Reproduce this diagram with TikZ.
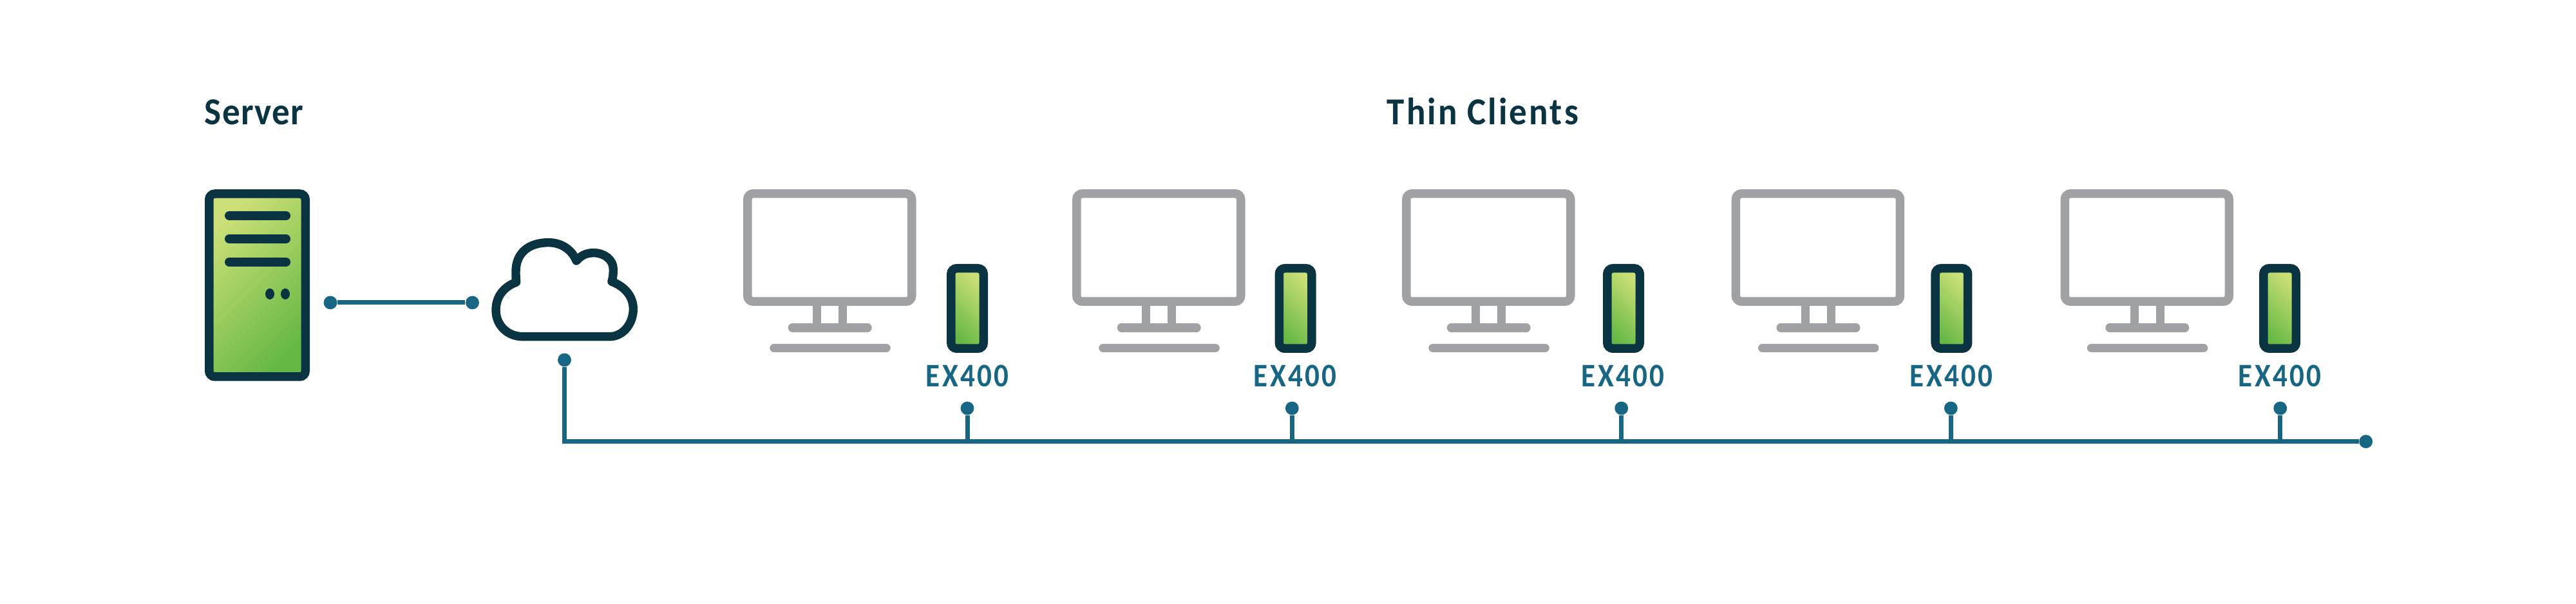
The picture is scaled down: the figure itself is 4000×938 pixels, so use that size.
\documentclass[tikz,border=0pt]{standalone}
\usepackage{fontspec}
\setmainfont{Carlito}
\newfontfamily\srvfont[LetterSpace=2.4,FakeStretch=0.93]{Carlito}
\newfontfamily\headfont[LetterSpace=5.2,FakeStretch=0.93]{Carlito}
\newfontfamily\devfont[LetterSpace=6.4,FakeStretch=0.88]{Carlito}
\usetikzlibrary{shapes.geometric}
\definecolor{dark}{HTML}{0B3443}
\definecolor{linkblue}{HTML}{176684}
\definecolor{mongray}{HTML}{A0A1A4}
\definecolor{glight}{HTML}{CBDF76}
\definecolor{gdeep}{HTML}{66B845}
\tikzset{
  px/.style={x=0.25pt,y=-0.25pt},
  serverbox/.style={draw=dark,line width=3.375pt,rounded corners=2.2pt,inner sep=0pt,
    minimum width=37.375pt,minimum height=71pt,left color=glight,right color=gdeep,shading angle=45},
  devbox/.style={draw=dark,line width=3.375pt,rounded corners=2.2pt,inner sep=0pt,
    minimum width=12.625pt,minimum height=31.125pt,left color=gdeep,right color=glight,shading angle=135},
  monbox/.style={draw=mongray,line width=3.375pt,rounded corners=2.2pt,inner sep=0pt,
    minimum width=63.75pt,minimum height=41.875pt},
  monline/.style={draw=mongray,line width=3.375pt,line cap=round},
  monpost/.style={draw=mongray,line width=3.25pt},
  darkbar/.style={draw=dark,line width=3.5pt,line cap=round},
  link/.style={draw=linkblue,line width=1.75pt},
  linkdot/.style={circle,fill=linkblue,inner sep=0pt,minimum size=5.2pt},
  headtext/.style={inner sep=0pt,anchor=base west,text=dark,font={\headfont\bfseries\fontsize{14.8pt}{16pt}\selectfont}},
  srvtext/.style={inner sep=0pt,anchor=base west,text=dark,font={\srvfont\bfseries\fontsize{14.8pt}{16pt}\selectfont}},
  devtext/.style={inner sep=0pt,anchor=base west,text=linkblue,font={\devfont\bfseries\fontsize{12.8pt}{14pt}\selectfont}},
  cloudline/.style={draw=dark,line width=3.35pt,line join=round},
}
\begin{document}
\begin{tikzpicture}[px]
\useasboundingbox (0,0) rectangle (4000,938);
% headings
\node[srvtext] (serverlabel) at (317,194) {Server};
\node[headtext] (thinlabel) at (2153,194) {Thin Clients};
% server
\node[serverbox] (server) at (399.5,443) {};
\foreach \y in {335,371,407}{\draw[darkbar] (356,\y) -- (444,\y);}
\fill[dark] (419,456.5) ellipse [x radius=7,y radius=8.5];
\fill[dark] (443,456.5) ellipse [x radius=7,y radius=8.5];
% cloud
\draw[cloudline] (811.7,522.7) -- (946.7,522.7)
  .. controls (968,522.7) and (983.3,502) .. (983.3,480)
  .. controls (983.3,460) and (970,445) .. (950,437.3)
  .. controls (952,430) and (952.3,425) .. (952.3,418)
  .. controls (952.3,403) and (938,392.7) .. (921.7,392.7)
  .. controls (910,392.7) and (902,397) .. (895,405)
  .. controls (888,388) and (872,376.7) .. (851.7,376.7)
  .. controls (822,376.7) and (801,392) .. (801,421.7)
  .. controls (801,428) and (801,432) .. (801.7,438.3)
  .. controls (783,445) and (770,460) .. (770,481.7)
  .. controls (770,505) and (788,522.7) .. (811.7,522.7) -- cycle;
% server to cloud link
\node[linkdot] (srvdot) at (513,470) {};
\node[linkdot] (clddot) at (733.5,470) {};
\draw[link] (srvdot) -- (clddot);
% bus
\node[linkdot] (busstart) at (876.5,559) {};
\node[linkdot] (busend) at (3673.7,685.7) {};
\draw[link] (busstart) |- (busend);
% clients
\foreach \n/\mx/\dx/\sx/\lx in {1/1154/1502/1502/1437,2/1665/2011.5/2006.3/1946,3/2177/2521/2517.7/2455,4/2688.7/3030.4/3029.3/2965,5/3199.5/3540/3540.7/3475}{
  \node[monbox] (mon\n) at (\mx+134.25,384.5) {};
  \draw[monpost] (\mx+114.5,475) -- (\mx+114.5,503);
  \draw[monpost] (\mx+154.6,475) -- (\mx+154.6,503);
  \draw[monline] (\mx+76.5,509) -- (\mx+193,509);
  \draw[monline] (\mx+48,540.5) -- (\mx+222,540.5);
  \node[devbox] (dev\n) at (\dx,479) {};
  \node[devtext] (lab\n) at (\lx,601) {EX400};
  \node[linkdot] (tap\n) at (\sx,634) {};
  \draw[link] (tap\n) -- (tap\n |- busend);
}
\end{tikzpicture}
\end{document}
